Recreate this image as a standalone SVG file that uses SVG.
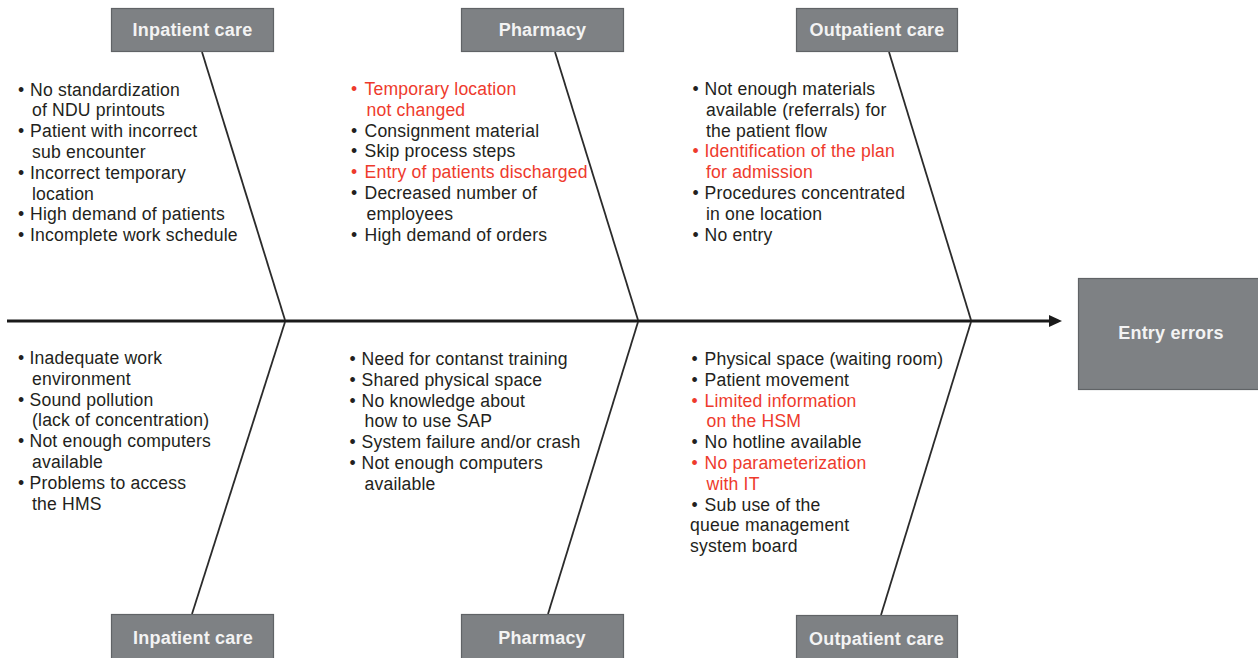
<svg xmlns="http://www.w3.org/2000/svg" width="1258" height="658" viewBox="0 0 1258 658">
<style>
.box{fill:#7e8184;stroke:#606366;stroke-width:1.2}
.title{font-family:"Liberation Sans",Arial,sans-serif;font-weight:bold;font-size:18px;fill:#f3f3f3;text-anchor:middle;letter-spacing:0.2px}
.t{font-family:"Liberation Sans",Arial,sans-serif;font-size:17.6px;fill:#231f20;letter-spacing:0.18px}
.r{fill:#ee3a2c}
.bone{stroke:#2b2b2b;stroke-width:1.8;fill:none}
.spine{stroke:#1a1a1a;stroke-width:3;fill:none}
</style>
<rect width="1258" height="658" fill="#ffffff"/>

<g id="connectors">
<line class="spine" x1="7" y1="321" x2="1050" y2="321"/>
<path d="M1049,315 L1062,321 L1049,327 Z" fill="#1a1a1a"/>
<line class="bone" x1="202" y1="52" x2="285" y2="320"/>
<line class="bone" x1="285" y1="322" x2="192" y2="614"/>
<line class="bone" x1="555" y1="52" x2="638" y2="320"/>
<line class="bone" x1="638" y1="322" x2="548" y2="614"/>
<line class="bone" x1="889" y1="52" x2="971" y2="320"/>
<line class="bone" x1="971" y1="322" x2="881" y2="615"/>
</g>

<g id="inpatient-top">
<rect class="box" x="111.5" y="8.5" width="162" height="43"/>
<text class="title" x="192.5" y="36">Inpatient care</text>
<text class="t"><tspan x="18" y="95.5">•</tspan><tspan x="30" y="95.5">No standardization</tspan><tspan x="32" y="116.3">of NDU printouts</tspan><tspan x="18" y="137.1">•</tspan><tspan x="30" y="137.1">Patient with incorrect</tspan><tspan x="32" y="157.9">sub encounter</tspan><tspan x="18" y="178.7">•</tspan><tspan x="30" y="178.7">Incorrect temporary</tspan><tspan x="32" y="199.5">location</tspan><tspan x="18" y="220.3">•</tspan><tspan x="30" y="220.3">High demand of patients</tspan><tspan x="18" y="241.1">•</tspan><tspan x="30" y="241.1">Incomplete work schedule</tspan></text>
</g>

<g id="pharmacy-top">
<rect class="box" x="461.5" y="8.5" width="162" height="43"/>
<text class="title" x="542.5" y="36">Pharmacy</text>
<text class="t"><tspan class="r" x="351" y="95">•</tspan><tspan class="r" x="364.5" y="95">Temporary location</tspan><tspan class="r" x="366.5" y="115.8">not changed</tspan><tspan x="351" y="136.6">•</tspan><tspan x="364.5" y="136.6">Consignment material</tspan><tspan x="351" y="157.4">•</tspan><tspan x="364.5" y="157.4">Skip process steps</tspan><tspan class="r" x="351" y="178.2">•</tspan><tspan class="r" x="364.5" y="178.2">Entry of patients discharged</tspan><tspan x="351" y="199">•</tspan><tspan x="364.5" y="199">Decreased number of</tspan><tspan x="366.5" y="219.8">employees</tspan><tspan x="351" y="240.6">•</tspan><tspan x="364.5" y="240.6">High demand of orders</tspan></text>
</g>

<g id="outpatient-top">
<rect class="box" x="796.5" y="8.5" width="161" height="43"/>
<text class="title" x="877" y="36">Outpatient care</text>
<text class="t"><tspan x="692.5" y="95">•</tspan><tspan x="704.5" y="95">Not enough materials</tspan><tspan x="706" y="115.8">available (referrals) for</tspan><tspan x="706" y="136.6">the patient flow</tspan><tspan class="r" x="692.5" y="157.4">•</tspan><tspan class="r" x="704.5" y="157.4">Identification of the plan</tspan><tspan class="r" x="706" y="178.2">for admission</tspan><tspan x="692.5" y="199">•</tspan><tspan x="704.5" y="199">Procedures concentrated</tspan><tspan x="706" y="219.8">in one location</tspan><tspan x="692.5" y="240.6">•</tspan><tspan x="704.5" y="240.6">No entry</tspan></text>
</g>

<g id="entry-errors">
<rect class="box" x="1078.5" y="278.5" width="181" height="111"/>
<text class="title" x="1171" y="339">Entry errors</text>
</g>

<g id="inpatient-bottom">
<rect class="box" x="111.5" y="614.5" width="162" height="46"/>
<text class="title" x="193" y="644">Inpatient care</text>
<text class="t"><tspan x="18" y="364">•</tspan><tspan x="29.5" y="364">Inadequate work</tspan><tspan x="32" y="384.8">environment</tspan><tspan x="18" y="405.6">•</tspan><tspan x="29.5" y="405.6">Sound pollution</tspan><tspan x="32" y="426.4">(lack of concentration)</tspan><tspan x="18" y="447.2">•</tspan><tspan x="29.5" y="447.2">Not enough computers</tspan><tspan x="32" y="468">available</tspan><tspan x="18" y="488.8">•</tspan><tspan x="29.5" y="488.8">Problems to access</tspan><tspan x="32" y="509.6">the HMS</tspan></text>
</g>

<g id="pharmacy-bottom">
<rect class="box" x="461.5" y="614.5" width="162" height="46"/>
<text class="title" x="542" y="644">Pharmacy</text>
<text class="t"><tspan x="349.5" y="365">•</tspan><tspan x="361.5" y="365">Need for contanst training</tspan><tspan x="349.5" y="385.8">•</tspan><tspan x="361.5" y="385.8">Shared physical space</tspan><tspan x="349.5" y="406.6">•</tspan><tspan x="361.5" y="406.6">No knowledge about</tspan><tspan x="364.5" y="427.4">how to use SAP</tspan><tspan x="349.5" y="448.2">•</tspan><tspan x="361.5" y="448.2">System failure and/or crash</tspan><tspan x="349.5" y="469">•</tspan><tspan x="361.5" y="469">Not enough computers</tspan><tspan x="364.5" y="489.8">available</tspan></text>
</g>

<g id="outpatient-bottom">
<rect class="box" x="796.5" y="615.5" width="161" height="46"/>
<text class="title" x="876.5" y="645">Outpatient care</text>
<text class="t"><tspan x="691.5" y="365">•</tspan><tspan x="704.5" y="365">Physical space (waiting room)</tspan><tspan x="691.5" y="385.8">•</tspan><tspan x="704.5" y="385.8">Patient movement</tspan><tspan class="r" x="691.5" y="406.6">•</tspan><tspan class="r" x="704.5" y="406.6">Limited information</tspan><tspan class="r" x="706.5" y="427.4">on the HSM</tspan><tspan x="691.5" y="448.2">•</tspan><tspan x="704.5" y="448.2">No hotline available</tspan><tspan class="r" x="691.5" y="469">•</tspan><tspan class="r" x="704.5" y="469">No parameterization</tspan><tspan class="r" x="706.5" y="489.8">with IT</tspan><tspan x="691.5" y="510.6">•</tspan><tspan x="704.5" y="510.6">Sub use of the</tspan><tspan x="690" y="531.4">queue management</tspan><tspan x="690" y="552.2">system board</tspan></text>
</g>
</svg>
